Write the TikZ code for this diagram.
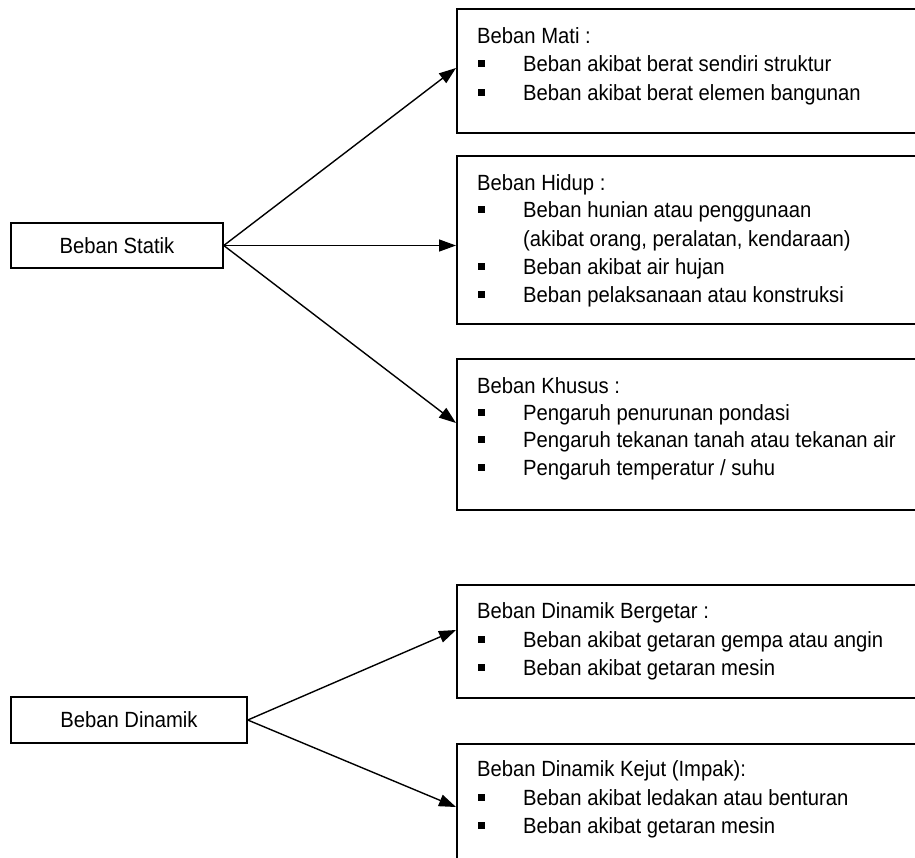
\documentclass[tikz,border=0pt]{standalone}
\usepackage{fontspec}
\setmainfont{Liberation Sans}[FakeStretch=0.92]
\usetikzlibrary{arrows.meta}
\newcommand\bodyfont{\fontsize{22}{28}\selectfont}
\begin{document}
\begin{tikzpicture}[x=1pt,y=-1pt,
  box/.style={draw, line width=1.5pt, rectangle, anchor=north west, inner sep=0pt, minimum width=480pt},
  mainbox/.style={draw, line width=1.5pt, rectangle, inner sep=0pt, font=\bodyfont},
  txt/.style={anchor=base west, inner sep=0pt, font=\bodyfont},
  bul/.style={fill=black, minimum size=7pt, inner sep=0pt},
  arr/.style={line width=1.4pt, -{Triangle[length=17pt,width=12pt]}}]
\useasboundingbox (0,0) rectangle (915,857);
\clip (0,0) rectangle (915,857);

% left boxes
\node[mainbox, minimum width=212pt, minimum height=45pt] (statik) at (117,245.5) {Beban Statik};
\node[mainbox, minimum width=236pt, minimum height=46pt] (dinamik) at (129,720) {Beban Dinamik};

% right boxes
\node[box, minimum height=124pt] (mati) at (456,8) {};
\node[box, minimum height=168pt] (hidup) at (456,155) {};
\node[box, minimum height=151pt] (khusus) at (456,358) {};
\node[box, minimum height=113pt] (getar) at (456,584) {};
\node[box, minimum height=160pt] (kejut) at (456,743) {};

% Beban Mati
\node[txt] (m0) at (477,43) {Beban Mati :};
\node[bul] (mb1) at (481,63) {};
\node[txt] (m1) at (523,71) {Beban akibat berat sendiri struktur};
\node[bul] (mb2) at (481,92) {};
\node[txt] (m2) at (523,100) {Beban akibat berat elemen bangunan};

% Beban Hidup
\node[txt] (h0) at (477,190) {Beban Hidup :};
\node[bul] (hb1) at (481,209) {};
\node[txt] (h1) at (523,217) {Beban hunian atau penggunaan};
\node[txt] (h1b) at (523,246) {(akibat orang, peralatan, kendaraan)};
\node[bul] (hb2) at (481,266) {};
\node[txt] (h2) at (523,274) {Beban akibat air hujan};
\node[bul] (hb3) at (481,294) {};
\node[txt] (h3) at (523,302) {Beban pelaksanaan atau konstruksi};

% Beban Khusus
\node[txt] (k0) at (477,393) {Beban Khusus :};
\node[bul] (kb1) at (481,412) {};
\node[txt] (k1) at (523,420) {Pengaruh penurunan pondasi};
\node[bul] (kb2) at (481,439) {};
\node[txt] (k2) at (523,447) {Pengaruh tekanan tanah atau tekanan air};
\node[bul] (kb3) at (481,467) {};
\node[txt] (k3) at (523,475) {Pengaruh temperatur / suhu};

% Beban Dinamik Bergetar
\node[txt] (g0) at (477,618) {Beban Dinamik Bergetar :};
\node[bul] (gb1) at (481,639) {};
\node[txt] (g1) at (523,647) {Beban akibat getaran gempa atau angin};
\node[bul] (gb2) at (481,667) {};
\node[txt] (g2) at (523,675) {Beban akibat getaran mesin};

% Beban Dinamik Kejut
\node[txt] (j0) at (477,776) {Beban Dinamik Kejut (Impak):};
\node[bul] (jb1) at (481,797) {};
\node[txt] (j1) at (523,805) {Beban akibat ledakan atau benturan};
\node[bul] (jb2) at (481,825) {};
\node[txt] (j2) at (523,833) {Beban akibat getaran mesin};

% arrow tips
\coordinate (tm) at (456,68);
\coordinate (tk) at (456,423);
\coordinate (tg) at (456,630);
\coordinate (tj) at (456,807);

\draw[arr] (statik.east) -- (tm);
\draw[arr] (statik.east) -- (statik.east -| hidup.west);
\draw[arr] (statik.east) -- (tk);
\draw[arr] (dinamik.east) -- (tg);
\draw[arr] (dinamik.east) -- (tj);
\end{tikzpicture}
\end{document}
